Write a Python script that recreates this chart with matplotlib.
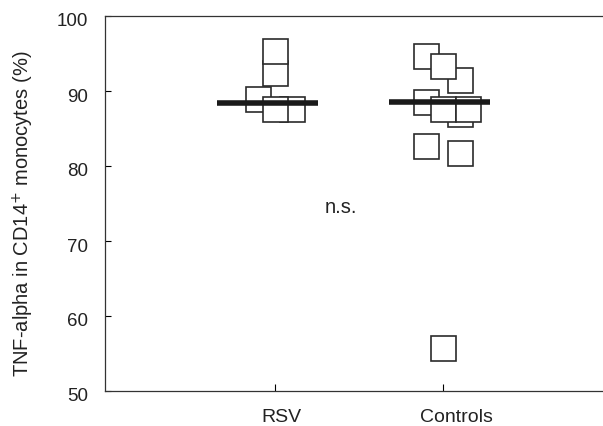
import matplotlib
matplotlib.use('Agg')
import matplotlib.pyplot as plt
import matplotlib.transforms as mtransforms

plt.rcParams['font.family'] = ['Liberation Sans', 'DejaVu Sans']

# data (drawing order matters: squares overlap)
groups = ['RSV', 'Controls']
rsv_vals = [89.0, 87.6, 87.6, 92.35, 95.4]
rsv_jitter = [-0.10, 0.10, 0.0, 0.0, 0.0]
ctl_vals = [94.7, 91.5, 93.35, 87.0, 88.6, 87.6, 87.6, 82.7, 81.7, 55.8]
ctl_jitter = [-0.10, 0.10, 0.0, 0.10, -0.10, 0.0, 0.15, -0.10, 0.10, 0.0]
group_lines = [88.45, 88.5]
yticks = [50, 60, 70, 80, 90, 100]

TXT = '#222222'

fig = plt.figure(figsize=(6.03, 4.27), dpi=100)
ax = fig.add_axes([105/603, 1 - 392/427, 1 - 105/603, (392 - 17)/427])

ms = 18  # square side in points
for pos, vals, jit in [(1, rsv_vals, rsv_jitter), (2, ctl_vals, ctl_jitter)]:
    for v, j in zip(vals, jit):
        ax.plot(pos + j, v, marker='s', ms=ms, mfc='white', mec='#2b2b2b',
                mew=1.2, ls='none', zorder=2)

# group lines, slightly left of centre as in the figure
for pos, v, shift in zip([1, 2], group_lines, [-0.045, -0.023]):
    ax.plot([pos + shift - 0.30, pos + shift + 0.30], [v, v], color='#1a1a1a',
            lw=4.0, solid_capstyle='butt', zorder=3)

ax.text(1.39, 74.6, 'n.s.', ha='center', va='center', fontsize=14.5, color=TXT)

ax.set_xlim(-0.012, 2.952)
ax.set_ylim(50, 100)
ax.set_xticks([1, 2])
ax.set_xticklabels(groups, fontsize=14, color=TXT)
ax.set_yticks(yticks)
ax.set_yticklabels([str(t) for t in yticks], fontsize=13.5, color=TXT)
ax.tick_params(axis='y', direction='in', length=4, width=0.8, pad=12)
ax.tick_params(axis='x', direction='in', length=5, width=0.8, pad=12)
ax.set_ylabel('TNF-alpha in CD14$^{+}$ monocytes (%)', fontsize=14.5,
              color=TXT, va='center')
ax.yaxis.set_label_coords((23 - 105)/498, 0.475)

# labels in the original sit a little right of / below their ticks
for lab, dx in zip(ax.get_xticklabels(), [6, 13]):
    lab.set_transform(lab.get_transform() +
                      mtransforms.ScaledTranslation(dx/100, 0, fig.dpi_scale_trans))
for lab in ax.get_yticklabels():
    lab.set_transform(lab.get_transform() +
                      mtransforms.ScaledTranslation(0, -3/100, fig.dpi_scale_trans))

ax.spines['right'].set_visible(False)
for s in ['left', 'top', 'bottom']:
    ax.spines[s].set_linewidth(0.9)
    ax.spines[s].set_color('#333333')

fig.savefig('out.png', dpi=100, facecolor='white')
